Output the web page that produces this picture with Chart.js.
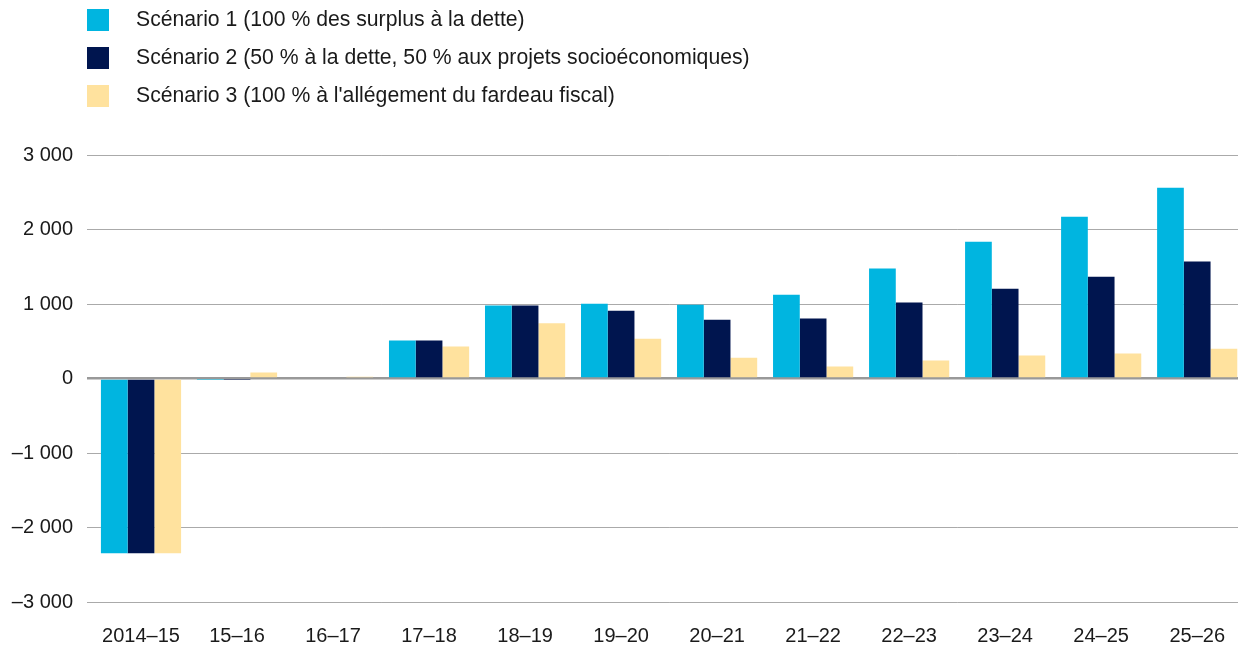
<!DOCTYPE html>
<html>
<head>
<meta charset="utf-8">
<script src="https://cdn.jsdelivr.net/npm/chart.js@4.4.1/dist/chart.umd.min.js"></script>
<style>
  html, body { margin: 0; padding: 0; background: #ffffff; overflow: hidden; }
  #wrap { width: 1238px; height: 648px; overflow: hidden; }
</style>
</head>
<body>
<div id="wrap"><canvas id="mychart" width="1247" height="648"></canvas></div>
<script>
const categories = ['2014–15', '15–16', '16–17', '17–18', '18–19', '19–20', '20–21', '21–22', '22–23', '23–24', '24–25', '25–26'];
const seriesNames = [
    'Scénario 1 (100 % des surplus à la dette)',
    'Scénario 2 (50 % à la dette, 50 % aux projets socioéconomiques)',
    "Scénario 3 (100 % à l'allégement du fardeau fiscal)"
];
const scenario1 = [-2345, -10, 0, 510, 980, 1005, 990, 1125, 1475, 1835, 2170, 2560];
const scenario2 = [-2345, -10, 0, 510, 980, 910, 790, 805, 1020, 1205, 1365, 1570];
const scenario3 = [-2345, 80, 25, 430, 740, 535, 280, 160, 240, 310, 335, 400];
const colors = ['#00b5e0', '#00154f', '#ffe29e'];

const fontFamily = '"Liberation Sans", Arial, Helvetica, sans-serif';

function fmt(v) {
    const s = Math.abs(v).toString().replace(/\B(?=(\d{3})+(?!\d))/g, ' ');
    return (v < 0 ? '–' : '') + s;
}

// legend drawn as a vertical list at the top left
const topLegend = {
    id: 'topLegend',
    afterDraw(chart) {
        const c = chart.ctx;
        c.save();
        c.font = '21.2px ' + fontFamily;
        c.textBaseline = 'middle';
        chart.data.datasets.forEach((ds, i) => {
            const y = 9 + i * 38;
            c.fillStyle = ds.backgroundColor;
            c.fillRect(87, y, 22, 22);
            c.fillStyle = '#1a1a1a';
            c.fillText(ds.label, 136, y + 11);
        });
        c.restore();
    }
};

const ctx = document.getElementById('mychart');
var chart = new Chart(ctx, {
    type: 'bar',
    data: {
        labels: categories,
        datasets: [
            { label: seriesNames[0], data: scenario1, backgroundColor: colors[0] },
            { label: seriesNames[1], data: scenario2, backgroundColor: colors[1] },
            { label: seriesNames[2], data: scenario3, backgroundColor: colors[2] }
        ]
    },
    options: {
        responsive: false,
        animation: false,
        layout: {
            padding: { top: 155, right: 0, bottom: 0, left: 0 }
        },
        datasets: {
            bar: {
                barPercentage: 1.0,
                categoryPercentage: 0.835,
                borderWidth: 0
            }
        },
        plugins: {
            legend: { display: false },
            tooltip: { enabled: false }
        },
        scales: {
            x: {
                afterFit(scale) { scale.height = 46; },
                grid: { display: false, drawTicks: false },
                border: { display: false },
                ticks: {
                    padding: 22,
                    color: '#1a1a1a',
                    maxRotation: 0,
                    autoSkip: false,
                    font: { size: 20, family: fontFamily }
                }
            },
            y: {
                min: -3000,
                max: 3000,
                afterFit(scale) { scale.width = 93; },
                border: { display: false },
                grid: {
                    tickLength: 6,
                    color: (c) => c.tick && c.tick.value === 0 ? '#999999' : '#aaaaaa',
                    lineWidth: (c) => c.tick && c.tick.value === 0 ? 2.5 : 1
                },
                ticks: {
                    stepSize: 1000,
                    padding: 14,
                    color: '#1a1a1a',
                    font: { size: 20, family: fontFamily },
                    callback: (v) => fmt(v)
                }
            }
        }
    },
    plugins: [topLegend]
});
</script>
</body>
</html>
